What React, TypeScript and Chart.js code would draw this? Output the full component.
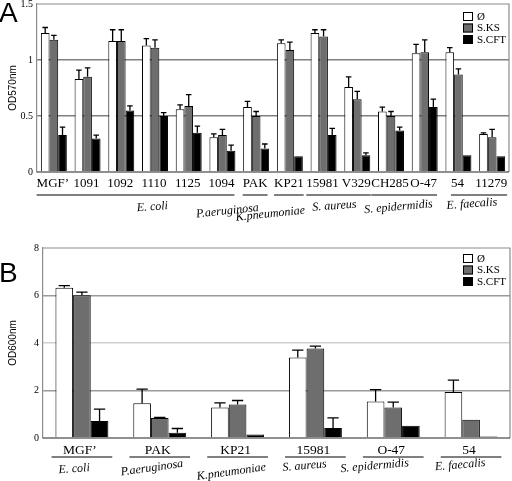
import React, { useEffect, useRef } from "react";
import { Chart, registerables } from "chart.js";

Chart.register(...registerables);

// ---------- shared ----------
const seriesNames = ["Ø", "S.KS", "S.CFT"];
const seriesColors = ["#ffffff", "#6e6e6e", "#000000"];

// ---------- Panel A (OD570nm) ----------
const categoriesA = ["MGF’", "1091", "1092", "1110", "1125", "1094", "PAK", "KP21", "15981", "V329", "CH285", "O-47", "54", "11279"];
const controlA = [1.24, 0.83, 1.17, 1.13, 0.56, 0.31, 0.58, 1.15, 1.24, 0.76, 0.54, 1.06, 1.07, 0.34];
const ksA = [1.18, 0.85, 1.17, 1.11, 0.59, 0.33, 0.50, 1.09, 1.21, 0.65, 0.50, 1.07, 0.87, 0.31];
const cftA = [0.33, 0.30, 0.55, 0.50, 0.35, 0.19, 0.21, 0.14, 0.33, 0.15, 0.37, 0.58, 0.15, 0.14];
const controlErrA = [0.05, 0.08, 0.10, 0.06, 0.04, 0.03, 0.05, 0.03, 0.03, 0.09, 0.04, 0.08, 0.04, 0.01];
const ksErrA = [0.04, 0.08, 0.10, 0.07, 0.10, 0.05, 0.04, 0.07, 0.06, 0.07, 0.04, 0.11, 0.05, 0.07];
const cftErrA = [0.07, 0.03, 0.04, 0.03, 0.06, 0.05, 0.04, 0.0, 0.06, 0.02, 0.03, 0.07, 0.0, 0.0];
const speciesA = [
  { name: "E. coli", from: 0, to: 5 },
  { name: "P.aeruginosa", from: 6, to: 6 },
  { name: "K.pneumoniae", from: 7, to: 7 },
  { name: "S. aureus", from: 8, to: 9 },
  { name: "S. epidermidis", from: 10, to: 11 },
  { name: "E. faecalis", from: 12, to: 13 },
];

// ---------- Panel B (OD600nm) ----------
const categoriesB = ["MGF’", "PAK", "KP21", "15981", "O-47", "54"];
const controlB = [6.33, 1.46, 1.28, 3.39, 1.54, 1.94];
const ksB = [6.01, 0.84, 1.41, 3.77, 1.28, 0.77];
const cftB = [0.72, 0.22, 0.15, 0.42, 0.52, 0.06];
const controlErrB = [0.09, 0.6, 0.2, 0.31, 0.5, 0.5];
const ksErrB = [0.13, 0.03, 0.17, 0.1, 0.23, 0.0];
const cftErrB = [0.5, 0.18, 0.0, 0.43, 0.0, 0.0];
const speciesB = [
  { name: "E. coli", from: 0, to: 0 },
  { name: "P.aeruginosa", from: 1, to: 1 },
  { name: "K.pneumoniae", from: 2, to: 2 },
  { name: "S. aureus", from: 3, to: 3 },
  { name: "S. epidermidis", from: 4, to: 4 },
  { name: "E. faecalis", from: 5, to: 5 },
];

// ---------- layout (not data) ----------
const layoutA = {
  letter: "A",
  letterY: 14,
  yTitle: "OD570nm",
  yMax: 1.5,
  step: 0.5,
  axisWidth: 37,
  padding: { top: 4, right: 3, bottom: 68, left: 0 },
  height: 240,
  catPct: 0.77,
  labelY: 184,
  labelFont: "13px 'Liberation Serif'",
  labelDX: -1,
  underlineY: 195,
  underlineMode: "text",
  speciesY: [207, 211, 214, 206, 207, 204],
  speciesDX: [0.42, -0.85, -0.58, -0.18, -0.28, -0.1],
  speciesRot: [-4, -6, -6, -4, -5, -4],
  speciesFont: "italic 12px 'Liberation Serif'",
  gridColors: { 0.5: "#808080", 1: "#808080" } as Record<number, string>,
  legendY: 12,
  legendX: 463,
};
const layoutB = {
  letter: "B",
  letterY: 34,
  yTitle: "OD600nm",
  yMax: 8,
  step: 2,
  axisWidth: 43,
  padding: { top: 8, right: 2, bottom: 43, left: 0 },
  height: 241,
  catPct: 0.68,
  labelY: 210,
  labelFont: "13.5px 'Liberation Serif'",
  labelDX: -2,
  underlineY: 217,
  underlineMode: "fixed",
  speciesY: [229, 228, 232, 226, 226, 225],
  speciesDX: [-0.1, -0.1, -0.08, -0.14, -0.24, -0.14],
  speciesRot: [-4, -8, -8, -5, -5, -5],
  speciesFont: "italic 12px 'Liberation Serif'",
  gridColors: { 2: "#9a9a9a", 4: "#d0d0d0", 6: "#9a9a9a" } as Record<number, string>,
  legendY: 14,
  legendX: 463,
};

type Panel = {
  categories: string[];
  values: number[][];
  errors: number[][];
  species: { name: string; from: number; to: number }[];
  layout: typeof layoutA;
};

const panels: Panel[] = [
  { categories: categoriesA, values: [controlA, ksA, cftA], errors: [controlErrA, ksErrA, cftErrA], species: speciesA, layout: layoutA },
  { categories: categoriesB, values: [controlB, ksB, cftB], errors: [controlErrB, ksErrB, cftErrB], species: speciesB, layout: layoutB },
];

function makePlugin(p: Panel) {
  const L = p.layout;
  return {
    id: "panelDecor" + L.letter,
    afterDatasetsDraw(chart: any) {
      const ctx = chart.ctx as CanvasRenderingContext2D;
      const yS = chart.scales.y;
      ctx.save();
      ctx.strokeStyle = "#000";
      ctx.lineWidth = 1.3;
      p.values.forEach((vals, di) => {
        const meta = chart.getDatasetMeta(di);
        meta.data.forEach((bar: any, j: number) => {
          const err = p.errors[di][j];
          if (!err) return;
          const yTop = yS.getPixelForValue(vals[j] + err);
          const half = bar.width * 0.32;
          ctx.beginPath();
          ctx.moveTo(bar.x, bar.y);
          ctx.lineTo(bar.x, yTop);
          ctx.moveTo(bar.x - half, yTop);
          ctx.lineTo(bar.x + half, yTop);
          ctx.stroke();
        });
      });
      ctx.restore();
    },
    afterDraw(chart: any) {
      const ctx = chart.ctx as CanvasRenderingContext2D;
      const area = chart.chartArea;
      const xS = chart.scales.x;
      ctx.save();
      // frame (top, right) and baseline
      ctx.strokeStyle = "#8c8c8c";
      ctx.lineWidth = 1.2;
      ctx.beginPath();
      ctx.moveTo(area.left, area.top);
      ctx.lineTo(area.right, area.top);
      ctx.lineTo(area.right, area.bottom);
      ctx.stroke();
      ctx.strokeStyle = "#222";
      ctx.lineWidth = 1.2;
      ctx.beginPath();
      ctx.moveTo(area.left, area.bottom);
      ctx.lineTo(area.right, area.bottom);
      ctx.stroke();

      // category labels
      ctx.fillStyle = "#000";
      ctx.font = L.labelFont;
      ctx.textAlign = "center";
      ctx.textBaseline = "middle";
      const centers = p.categories.map((_, i) => xS.getPixelForValue(i));
      p.categories.forEach((c, i) => ctx.fillText(c, centers[i] + L.labelDX, L.labelY));

      // underlines + species
      const catW = p.categories.length > 1 ? centers[1] - centers[0] : 40;
      ctx.strokeStyle = "#000";
      ctx.lineWidth = 1;
      p.species.forEach((s) => {
        let x0: number, x1: number;
        if (L.underlineMode === "text") {
          x0 = centers[s.from] + L.labelDX - ctx.measureText(p.categories[s.from]).width / 2;
          x1 = centers[s.to] + L.labelDX + ctx.measureText(p.categories[s.to]).width / 2;
        } else {
          x0 = centers[s.from] - catW * 0.39;
          x1 = centers[s.to] + catW * 0.39;
        }
        ctx.beginPath();
        ctx.moveTo(x0, L.underlineY);
        ctx.lineTo(x1, L.underlineY);
        ctx.stroke();
      });
      ctx.font = L.speciesFont;
      p.species.forEach((s, k) => {
        const mid = (s.from + s.to) / 2 + L.speciesDX[k];
        const x = xS.getPixelForValue(mid);
        ctx.save();
        ctx.translate(x, L.speciesY[k]);
        ctx.rotate((L.speciesRot[k] * Math.PI) / 180);
        ctx.fillText(s.name, 0, 0);
        ctx.restore();
      });

      // y title
      ctx.save();
      ctx.font = "10px 'Liberation Sans'";
      ctx.translate(13, (area.top + area.bottom) / 2);
      ctx.rotate(-Math.PI / 2);
      ctx.fillText(L.yTitle, 0, 0);
      ctx.restore();

      // panel letter
      ctx.font = "28px 'Liberation Sans'";
      ctx.textAlign = "left";
      ctx.fillText(L.letter, -1, L.letterY);

      // legend
      ctx.font = "11px 'Liberation Serif'";
      ctx.textBaseline = "middle";
      seriesNames.forEach((n, i) => {
        const y = L.legendY + i * 11.5;
        ctx.fillStyle = seriesColors[i];
        ctx.fillRect(L.legendX, y, 10, 9);
        ctx.strokeStyle = "#000";
        ctx.lineWidth = 1;
        ctx.strokeRect(L.legendX + 0.5, y + 0.5, 9, 8);
        ctx.fillStyle = "#000";
        ctx.fillText(n, L.legendX + 14, y + 5);
      });
      ctx.restore();
    },
  };
}

function PanelChart({ p }: { p: Panel }) {
  const ref = useRef<HTMLCanvasElement | null>(null);
  useEffect(() => {
    const L = p.layout;
    const chart = new Chart(ref.current as HTMLCanvasElement, {
      type: "bar",
      data: {
        labels: p.categories,
        datasets: p.values.map((vals, i) => ({
          label: seriesNames[i],
          data: vals,
          backgroundColor: seriesColors[i],
          borderColor: "#000",
          borderWidth: 1,
          barPercentage: 1.0,
          categoryPercentage: L.catPct,
        })),
      },
      options: {
        responsive: false,
        animation: false,
        events: [],
        layout: { padding: L.padding },
        plugins: { legend: { display: false }, tooltip: { enabled: false } },
        scales: {
          x: { display: false },
          y: {
            min: 0,
            max: L.yMax,
            ticks: {
              stepSize: L.step,
              color: "#000",
              padding: 4,
              font: { family: "'Liberation Serif'", size: 10 },
              callback: (v: any) => String(Number(v)),
            },
            grid: {
              drawTicks: false,
              lineWidth: 1.4,
              color: (c: any) => L.gridColors[c.tick?.value] ?? "rgba(0,0,0,0)",
            },
            border: { display: true, color: "#8c8c8c", width: 1.2 },
            afterFit: (s: any) => {
              s.width = L.axisWidth;
              s.paddingTop = 0;
              s.paddingBottom = 0;
            },
          },
        },
      },
      plugins: [makePlugin(p)],
    });
    return () => chart.destroy();
  }, [p]);
  return <canvas ref={ref} width={512} height={p.layout.height} style={{ display: "block", width: 512, height: p.layout.height }} />;
}

export default function App() {
  useEffect(() => {
    document.body.style.margin = "0";
  }, []);
  return (
    <div style={{ width: 512, height: 481, background: "#fff" }}>
      {panels.map((p) => (
        <PanelChart key={p.layout.letter} p={p} />
      ))}
    </div>
  );
}
